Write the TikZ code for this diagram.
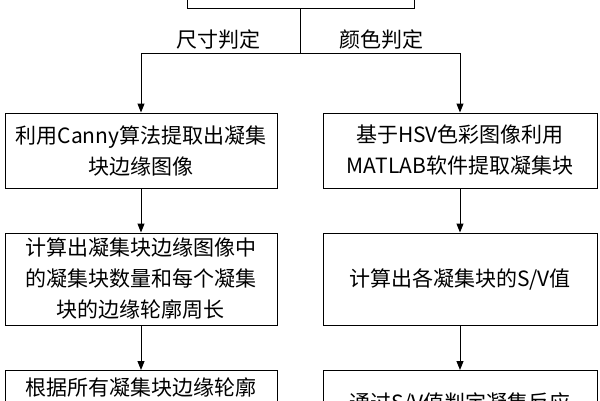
\documentclass[tikz,border=0pt]{standalone}
\usepackage{fontspec}
\setmainfont{Noto Sans CJK SC}
\usetikzlibrary{arrows.meta}
\begin{document}
\begin{tikzpicture}[x=1pt,y=-1pt,
  box/.style={draw,line width=1pt,align=center,inner sep=0pt,font=\fontsize{21}{31}\selectfont},
  arr/.style={line width=1pt,-{Triangle[length=9pt,width=7pt]}},
  lbl/.style={font=\fontsize{21}{22}\selectfont}]
\useasboundingbox (0,0) rectangle (600,400);
\clip (0,0) rectangle (600,400);
\node[box,minimum width=227pt,minimum height=40pt] (top) at (300.5,-12) {};
\coordinate (j) at (300.5,53);
\node[box,minimum width=272pt,minimum height=75pt] (l1) at (141,150.5) {利用Canny算法提取出凝集\\块边缘图像};
\node[box,minimum width=274pt,minimum height=75pt] (r1) at (460,150.5) {基于HSV色彩图像利用\\MATLAB软件提取凝集块};
\node[box,minimum width=272pt,minimum height=92pt] (l2) at (141,279) {计算出凝集块边缘图像中\\的凝集块数量和每个凝集\\块的边缘轮廓周长};
\node[box,minimum width=274pt,minimum height=92pt] (r2) at (460,279) {计算出各凝集块的S/V值};
\node[box,minimum width=272pt,minimum height=80pt,anchor=north] (l3) at (141,370) {};
\node[box,minimum width=274pt,minimum height=80pt,anchor=north] (r3) at (460,370) {};
\node[lbl] (la) at (218,40) {尺寸判定};
\node[lbl] (lb) at (381,40) {颜色判定};
\node[font=\fontsize{21}{22}\selectfont] (l3t) at (141,387) {根据所有凝集块边缘轮廓};
\node[font=\fontsize{21}{22}\selectfont] (r3t) at (460,403) {通过S/V值判定凝集反应};
\draw[line width=1pt] (top.south) -- (j);
\draw[arr] (j) -| (l1.north);
\draw[arr] (j) -| (r1.north);
\draw[arr] (l1) -- (l2);
\draw[arr] (r1) -- (r2);
\draw[arr] (l2) -- (l3);
\draw[arr] (r2) -- (r3);
\end{tikzpicture}
\end{document}
